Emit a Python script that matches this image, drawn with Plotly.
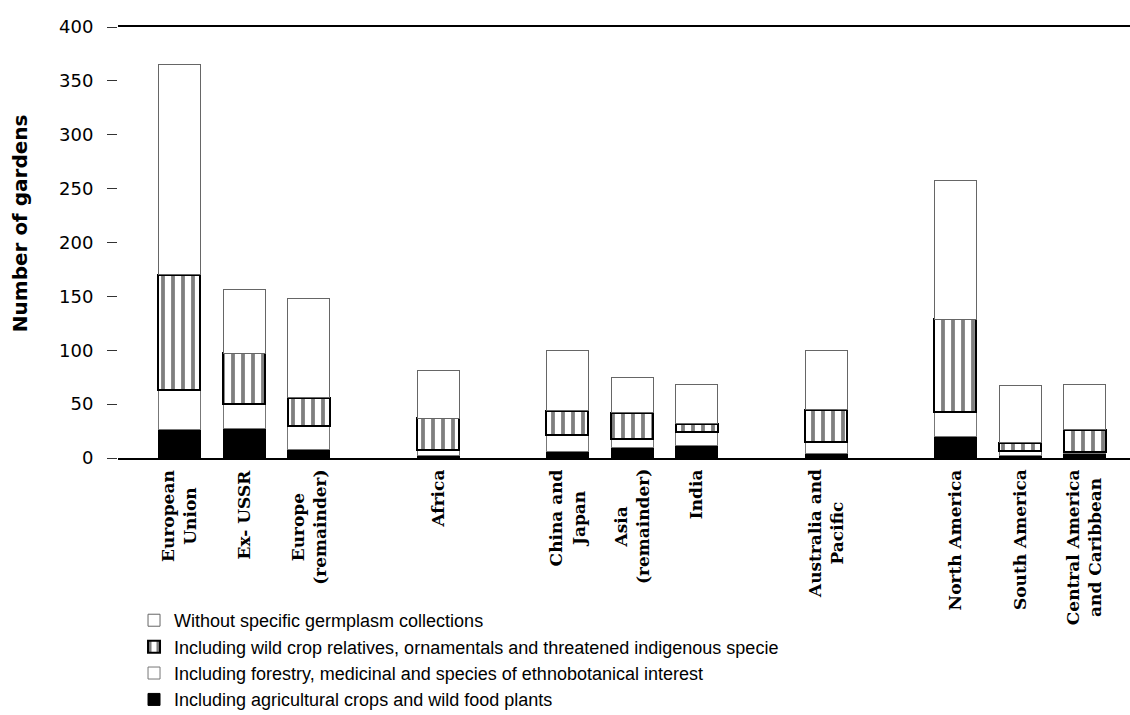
import plotly.graph_objects as go

regions = ["European<br>Union", "Ex- USSR", "Europe<br>(remainder)", "Africa",
           "China and<br>Japan", "Asia<br>(remainder)", "India",
           "Australia and<br>Pacific", "North America", "South America",
           "Central America<br>and Caribbean"]
slots = [0, 1, 2, 4, 6, 7, 8, 10, 12, 13, 14]

agricultural = [26, 27, 8, 2, 6, 10, 12, 4, 20, 2, 4]
forestry = [37, 23, 22, 5, 15, 8, 12, 11, 23, 4.5, 2]
wild_relatives = [107, 47, 26, 30, 23, 24, 8, 30, 86, 7.5, 20]
without_collections = [195, 59, 92, 44, 56, 33, 36, 55, 129, 53, 42]

y_ticks = [0, 50, 100, 150, 200, 250, 300, 350, 400]

fig = go.Figure()
fig.add_trace(go.Bar(
    x=slots, y=agricultural, name="Including agricultural crops and wild food plants",
    marker=dict(color="black", line=dict(color="black", width=1)), width=0.65))
fig.add_trace(go.Bar(
    x=slots, y=forestry, name="Including forestry, medicinal and species of ethnobotanical interest",
    marker=dict(color="white", line=dict(color="#777", width=1)), width=0.65))
fig.add_trace(go.Bar(
    x=slots, y=wild_relatives,
    name="Including wild crop relatives, ornamentals and threatened indigenous specie",
    marker=dict(color="white", line=dict(color="black", width=2),
                pattern=dict(shape="|", fgcolor="black", bgcolor="white",
                             size=10, solidity=0.38, fillmode="overlay")),
    width=0.65))
fig.add_trace(go.Bar(
    x=slots, y=without_collections, name="Without specific germplasm collections",
    marker=dict(color="white", line=dict(color="#666", width=1)), width=0.65))

# category labels, centred multi-line, hanging below the axis at each bar slot
label_annotations = [
    dict(text=f"<b>{lab}</b>", x=xv, xref="x", y=-0.022, yref="paper",
         xanchor="center", yanchor="top", textangle=-90, align="center",
         showarrow=False,
         font=dict(family="DejaVu Serif, Liberation Serif, serif", size=17, color="black"))
    for lab, xv in zip(regions, slots)
]

fig.update_layout(
    barmode="stack",
    width=1130, height=715,
    margin=dict(l=118, r=0, t=27, b=257, autoexpand=False),
    paper_bgcolor="white", plot_bgcolor="white",
    font=dict(family="Liberation Sans, Arial, sans-serif", color="black"),
    showlegend=True,
    legend=dict(traceorder="reversed", orientation="v",
                xref="container", yref="container",
                x=0.1186, xanchor="left", y=0.158, yanchor="top",
                font=dict(size=18), bgcolor="rgba(0,0,0,0)", itemwidth=30),
    xaxis=dict(range=[-0.95, 14.7], tickmode="array", tickvals=slots,
               showticklabels=False,
               showline=True, mirror=True, linecolor="black", linewidth=1.5,
               showgrid=False, zeroline=False, ticks="", automargin=False),
    yaxis=dict(range=[0, 400], tickmode="array", tickvals=y_ticks,
               showline=False, showgrid=False, zeroline=False, automargin=False,
               ticks="outside", ticklen=10, tickcolor="#333", tickwidth=1,
               ticklabelstandoff=10,
               tickfont=dict(family="DejaVu Sans, sans-serif", size=18, color="black")),
    annotations=[dict(text="<b>Number of gardens</b>", xref="paper", yref="paper",
                      x=-0.0968, y=0.545, xanchor="center", yanchor="middle",
                      textangle=-90, showarrow=False,
                      font=dict(family="DejaVu Sans, sans-serif", size=20, color="black"))]
                + label_annotations,
)

fig.write_html("out.html", post_script="document.body.style.margin='0';",
               config={"displayModeBar": False})
